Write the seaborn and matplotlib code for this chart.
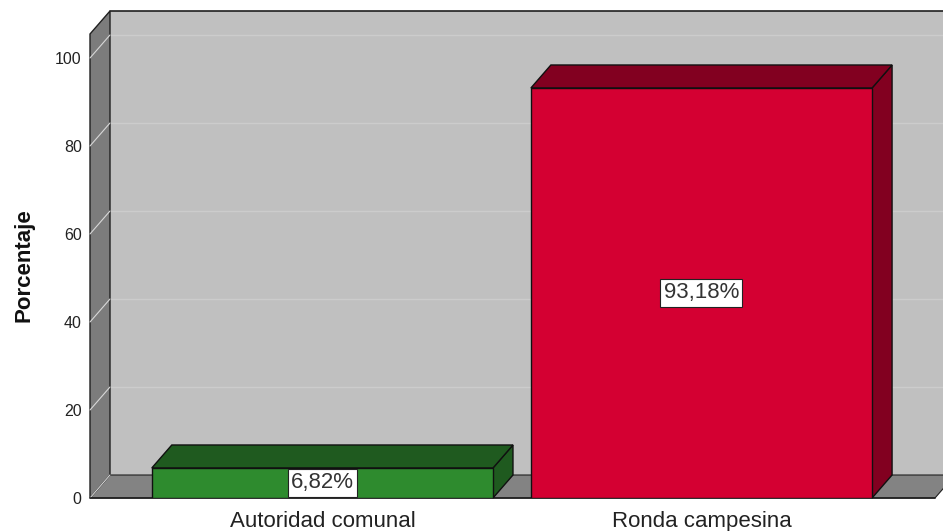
import matplotlib
matplotlib.use("Agg")
import matplotlib.pyplot as plt
from matplotlib.patches import Polygon
import seaborn as sns
import pandas as pd

categories = ["Autoridad comunal", "Ronda campesina"]
percentages = [6.82, 93.18]
value_labels = ["6,82%", "93,18%"]
y_ticks = [0, 20, 40, 60, 80, 100]
y_label = "Porcentaje"

front_colors = ["#2E8B2E", "#D40032"]
dark_colors = ["#1F5A1F", "#820020"]

sns.set_style("white")
plt.rcParams['font.family'] = ['Liberation Sans', 'DejaVu Sans']

W, H = 943, 531
fig = plt.figure(figsize=(W / 100, H / 100), dpi=100)
ax_left, ax_bottom, ax_w, ax_h = 90, 33, 845, 464
ax = fig.add_axes([ax_left / W, ax_bottom / H, ax_w / W, ax_h / H])
ax.set_facecolor("none")

xmin, xmax = -0.613, 1.616
ymin, ymax = 0, 105.45
ax.set_xlim(xmin, xmax)
ax.set_ylim(ymin, ymax)

# depth offset in pixels converted to data units
DEPTH_PX_X, DEPTH_PX_Y = 20, 23
DX = DEPTH_PX_X * (xmax - xmin) / ax_w
DY = DEPTH_PX_Y * (ymax - ymin) / ax_h

def poly(pts, fc, ec="none", lw=0.0, z=0):
    p = Polygon(pts, closed=True, facecolor=fc, edgecolor=ec, linewidth=lw,
                zorder=z, clip_on=False)
    ax.add_patch(p)

df = pd.DataFrame({"cat": categories, "pct": percentages})
sns.barplot(data=df, x="cat", y="pct", hue="cat", palette=front_colors, width=0.9,
            edgecolor="#101010", linewidth=1.0, legend=False, ax=ax, zorder=3,
            saturation=1)
ax.set_xlim(xmin, xmax)
ax.set_ylim(ymin, ymax)
bars = [b for c in ax.containers for b in c]

# back wall
poly([(xmin + DX, DY), (xmax + DX, DY), (xmax + DX, ymax + DY), (xmin + DX, ymax + DY)],
     "#C0C0C0", z=0.1)
# gridlines on back wall
for t in y_ticks[1:]:
    ax.plot([xmin + DX, xmax + DX], [t + DY, t + DY], color="#CCCCCC", lw=1.0,
            zorder=0.2, clip_on=False)
# floor
poly([(xmin, 0), (xmax, 0), (xmax + DX, DY), (xmin + DX, DY)], "#838383",
     ec="#202020", lw=0.8, z=0.3)
# left wall
poly([(xmin, 0), (xmin + DX, DY), (xmin + DX, ymax + DY), (xmin, ymax)], "#7C7C7C",
     ec="#202020", lw=1.0, z=0.4)
for t in y_ticks:
    ax.plot([xmin, xmin + DX], [t, t + DY], color="#D8D8D8", lw=0.8,
            zorder=0.45, clip_on=False)
# edges
ax.plot([xmin + DX, xmax + DX + 0.1], [ymax + DY, ymax + DY], color="#202020", lw=1.2,
        zorder=0.5, clip_on=False)
ax.plot([xmin, xmax], [0, 0], color="#202020", lw=1.2, zorder=0.5, clip_on=False)

for i, p in enumerate(bars):
    x0 = p.get_x(); w = p.get_width(); h = p.get_height()
    x1 = x0 + w
    poly([(x1, 0), (x1 + DX, DY), (x1 + DX, h + DY), (x1, h)], dark_colors[i],
         ec="#101010", lw=1.0, z=2)
    poly([(x0, h), (x1, h), (x1 + DX, h + DY), (x0 + DX, h + DY)], dark_colors[i],
         ec="#101010", lw=1.0, z=2)
    ax.text(x0 + w / 2, h / 2, value_labels[i], ha="center", va="center",
            fontsize=16, color="#333333", zorder=5,
            bbox=dict(boxstyle="square,pad=0.15", facecolor="white",
                      edgecolor="#222222", linewidth=0.8))

for s in ax.spines.values():
    s.set_visible(False)
ax.set_yticks(y_ticks)
ax.set_yticklabels([str(t) for t in y_ticks])
ax.tick_params(axis="y", length=0, pad=6, labelsize=11.5, labelcolor="#222222")
ax.tick_params(axis="x", length=0, pad=21, labelsize=16, labelcolor="#222222")
for lbl in ax.get_xticklabels():
    lbl.set_verticalalignment("baseline")
ax.set_xlabel("")
ax.set_ylabel(y_label, fontsize=16, fontweight="bold", color="#111111", va="center")
ax.yaxis.set_label_coords((24 - ax_left) / ax_w, 0.502)

fig.savefig("out.png", dpi=100)
